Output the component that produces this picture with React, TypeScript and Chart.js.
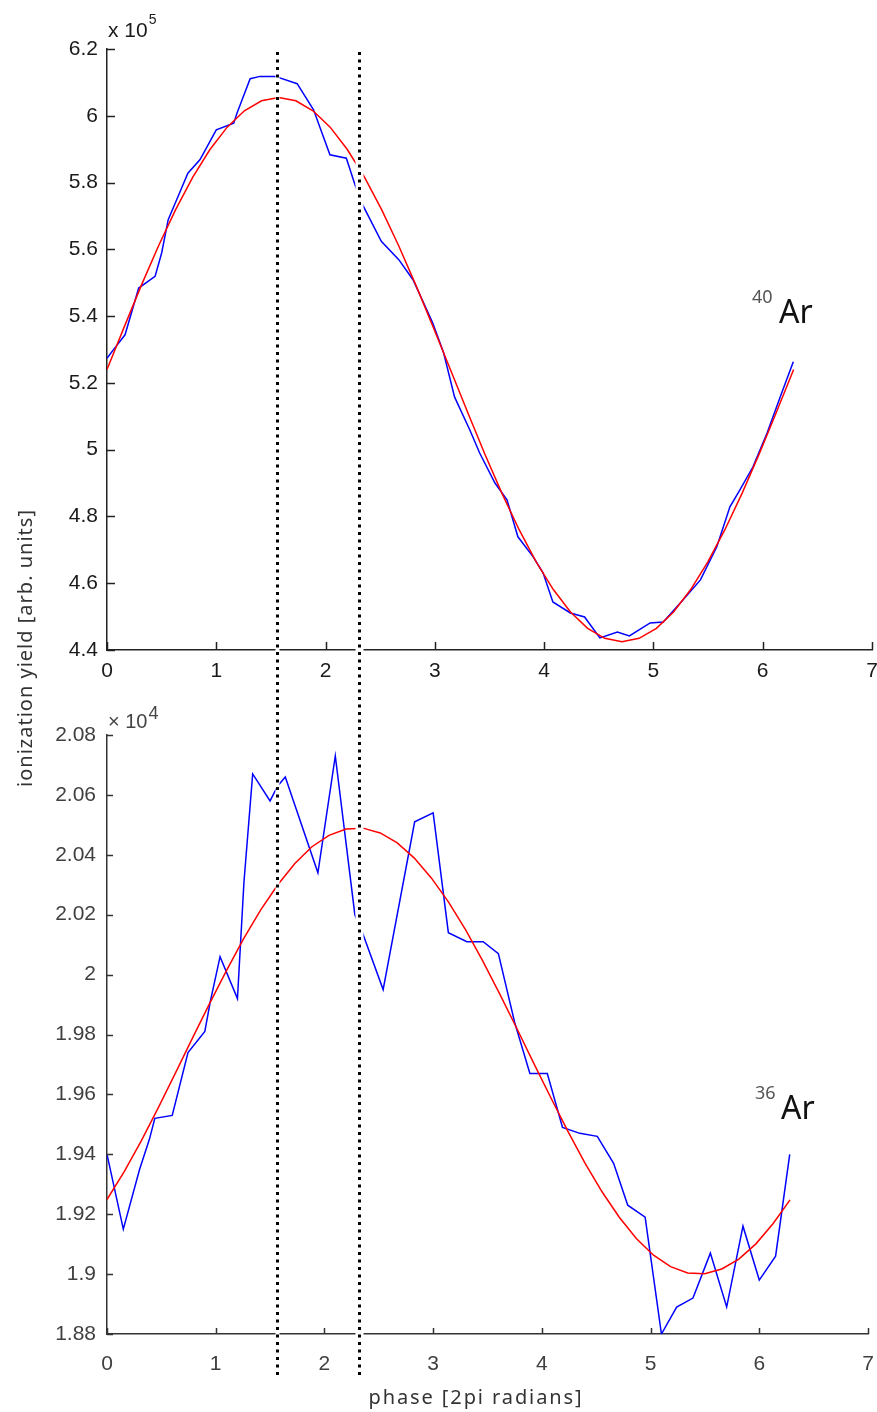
import React, { useEffect, useRef } from "react";
import { Chart, registerables } from "chart.js";

Chart.register(...registerables);

const W = 877;
const H = 1412;
const X_AXIS_H = 60;

// ---- 40Ar (top panel), yield in units of 1e5 ----
const AR40_PHASE = [0, 0.058, 0.165, 0.29, 0.44, 0.5, 0.56, 0.65, 0.74, 0.85, 1.0, 1.16, 1.19, 1.31, 1.4, 1.54, 1.74, 1.89, 2.04, 2.19, 2.27, 2.33, 2.51, 2.67, 2.8, 2.98, 3.08, 3.18, 3.32, 3.41, 3.55, 3.66, 3.76, 3.9, 3.99, 4.08, 4.24, 4.37, 4.51, 4.67, 4.78, 4.97, 5.09, 5.27, 5.43, 5.58, 5.7, 5.79, 5.91, 6.04, 6.16, 6.28];
const AR40_YIELD = [5.274, 5.299, 5.344, 5.484, 5.519, 5.589, 5.689, 5.758, 5.828, 5.868, 5.958, 5.978, 6.008, 6.111, 6.118, 6.118, 6.096, 6.018, 5.883, 5.873, 5.793, 5.739, 5.624, 5.569, 5.509, 5.38, 5.29, 5.158, 5.059, 4.99, 4.9, 4.85, 4.739, 4.679, 4.631, 4.544, 4.511, 4.499, 4.436, 4.454, 4.442, 4.481, 4.484, 4.55, 4.61, 4.709, 4.829, 4.879, 4.948, 5.05, 5.158, 5.263];

const FIT_PHASE = [0, 0.157, 0.314, 0.471, 0.628, 0.785, 0.942, 1.1, 1.257, 1.414, 1.571, 1.728, 1.885, 2.042, 2.199, 2.356, 2.513, 2.67, 2.827, 2.985, 3.142, 3.299, 3.456, 3.613, 3.77, 3.927, 4.084, 4.241, 4.398, 4.555, 4.712, 4.869, 5.027, 5.184, 5.341, 5.498, 5.655, 5.812, 5.969, 6.126, 6.283];
const AR40_FIT = [5.24, 5.367, 5.492, 5.61, 5.719, 5.816, 5.899, 5.966, 6.015, 6.045, 6.055, 6.045, 6.015, 5.966, 5.899, 5.816, 5.719, 5.61, 5.492, 5.367, 5.24, 5.113, 4.988, 4.87, 4.761, 4.664, 4.581, 4.514, 4.465, 4.435, 4.425, 4.435, 4.465, 4.514, 4.581, 4.664, 4.761, 4.87, 4.988, 5.113, 5.24];

// ---- 36Ar (bottom panel), yield in units of 1e4 ----
const AR36_PHASE = [0, 0.15, 0.3, 0.39, 0.44, 0.6, 0.745, 0.9, 0.95, 1.04, 1.2, 1.26, 1.34, 1.5, 1.57, 1.64, 1.94, 2.1, 2.28, 2.35, 2.54, 2.83, 3.0, 3.14, 3.31, 3.46, 3.6, 3.75, 3.89, 4.05, 4.19, 4.35, 4.51, 4.66, 4.79, 4.95, 5.1, 5.24, 5.39, 5.55, 5.7, 5.85, 6.0, 6.15, 6.28];
const AR36_YIELD = [1.94, 1.915, 1.935, 1.945, 1.952, 1.953, 1.974, 1.981, 1.991, 2.006, 1.992, 2.031, 2.067, 2.058, 2.063, 2.066, 2.034, 2.073, 2.02, 2.014, 1.995, 2.051, 2.054, 2.014, 2.011, 2.011, 2.007, 1.984, 1.967, 1.967, 1.949, 1.947, 1.946, 1.937, 1.923, 1.919, 1.88, 1.889, 1.892, 1.907, 1.889, 1.916, 1.898, 1.906, 1.94];
const AR36_FIT = [1.9249, 1.9341, 1.9444, 1.9555, 1.967, 1.9787, 1.9902, 2.0014, 2.012, 2.0216, 2.03, 2.0371, 2.0427, 2.0465, 2.0486, 2.0489, 2.0473, 2.044, 2.0389, 2.0322, 2.0242, 2.0149, 2.0046, 1.9935, 1.982, 1.9703, 1.9588, 1.9476, 1.937, 1.9274, 1.919, 1.9119, 1.9063, 1.9025, 1.9004, 1.9001, 1.9017, 1.905, 1.9101, 1.9168, 1.9248];

const X_TICKS = [0, 1, 2, 3, 4, 5, 6, 7];
const AR40_Y_TICKS = [4.4, 4.6, 4.8, 5, 5.2, 5.4, 5.6, 5.8, 6, 6.2];
const AR36_Y_TICKS = [1.88, 1.9, 1.92, 1.94, 1.96, 1.98, 2, 2.02, 2.04, 2.06, 2.08];
const DIVIDER_PHASES = [1.56, 2.32];
const DIVIDER_GAPS = [4, 8];

const toXY = (xs: number[], ys: number[]) => xs.map((x, i) => ({ x, y: ys[i] }));
const fmt = (v: number) => String(Number(v.toFixed(3)));

const inwardTicks = (color: string, len: number, width: number) => ({
  id: "inwardTicks",
  afterDatasetsDraw(chart: any) {
    const { ctx, chartArea: a, scales } = chart;
    const x = scales.x;
    const y = scales.y;
    ctx.save();
    ctx.strokeStyle = color;
    ctx.lineWidth = width;
    ctx.beginPath();
    x.ticks.forEach((t: any) => {
      const px = Math.round(x.getPixelForValue(t.value)) + 0.5;
      ctx.moveTo(px, a.bottom);
      ctx.lineTo(px, a.bottom - len);
    });
    y.ticks.forEach((t: any) => {
      const py = Math.round(y.getPixelForValue(t.value)) + 0.5;
      ctx.moveTo(a.left, py);
      ctx.lineTo(a.left + len, py);
    });
    ctx.stroke();
    ctx.restore();
  },
});

function buildConfig(opts: {
  blue: { x: number; y: number }[];
  red: { x: number; y: number }[];
  yMin: number;
  yMax: number;
  yTicks: number[];
  padding: { left: number; right: number; top: number; bottom: number };
  tickColor: string;
  axisColor: string;
  xPad: number;
  yPad: number;
  plugins: any[];
}) {
  const font = { family: "'Liberation Sans', Arial, sans-serif", size: 21 };
  return {
    type: "line" as const,
    data: {
      datasets: [
        { data: opts.red, borderColor: "#ff0000", borderWidth: 1.5, pointRadius: 0, tension: 0, fill: false },
        { data: opts.blue, borderColor: "#0000ff", borderWidth: 1.5, pointRadius: 0, tension: 0, fill: false },
      ],
    },
    options: {
      responsive: false,
      animation: false as const,
      devicePixelRatio: 1,
      layout: { padding: opts.padding },
      plugins: { legend: { display: false }, tooltip: { enabled: false }, title: { display: false } },
      scales: {
        x: {
          type: "linear" as const,
          min: 0,
          max: 7,
          afterBuildTicks: (s: any) => {
            s.ticks = X_TICKS.map((v) => ({ value: v }));
          },
          afterFit: (s: any) => {
            s.height = X_AXIS_H;
            s.paddingLeft = 0;
            s.paddingRight = 0;
          },
          ticks: { font, color: opts.tickColor, padding: opts.xPad, maxRotation: 0, autoSkip: false, callback: (v: any) => fmt(Number(v)) },
          grid: { display: false, drawTicks: false },
          border: { display: true, color: opts.axisColor, width: 1.5 },
        },
        y: {
          type: "linear" as const,
          min: opts.yMin,
          max: opts.yMax,
          afterBuildTicks: (s: any) => {
            s.ticks = opts.yTicks.map((v) => ({ value: v }));
          },
          afterFit: (s: any) => {
            s.width = 107;
            s.paddingTop = 0;
            s.paddingBottom = 0;
          },
          ticks: { font, color: opts.tickColor, padding: opts.yPad, autoSkip: false, callback: (v: any) => fmt(Number(v)) },
          grid: { display: false, drawTicks: false },
          border: { display: true, color: opts.axisColor, width: 1.5 },
        },
      },
    },
    plugins: opts.plugins,
  };
}

const topLabels = {
  id: "topLabels",
  afterDraw(chart: any) {
    const { ctx, chartArea: a } = chart;
    ctx.save();
    ctx.fillStyle = "#1a1a1a";
    ctx.textBaseline = "alphabetic";
    ctx.textAlign = "left";
    ctx.font = "21px 'Liberation Sans', Arial, sans-serif";
    const base = "x 10";
    ctx.fillText(base, a.left + 1, a.top - 12);
    const w = ctx.measureText(base).width;
    ctx.font = "14px 'Liberation Sans', Arial, sans-serif";
    ctx.fillText("5", a.left + 2 + w, a.top - 25);
    // 40Ar
    ctx.fillStyle = "#555";
    ctx.font = "18px 'Noto Sans', sans-serif";
    ctx.fillText("40", 752, 303);
    ctx.fillStyle = "#111";
    ctx.font = "32px 'Noto Sans', sans-serif";
    ctx.fillText("Ar", 779, 323);
    ctx.restore();
  },
};

const bottomLabels = {
  id: "bottomLabels",
  afterDraw(chart: any) {
    const { ctx, chartArea: a, scales } = chart;
    ctx.save();
    ctx.textBaseline = "alphabetic";
    ctx.textAlign = "left";
    ctx.fillStyle = "#444";
    ctx.font = "20px 'Liberation Sans', Arial, sans-serif";
    const base = "\u00d7 10";
    ctx.fillText(base, a.left + 1, a.top - 7);
    const w = ctx.measureText(base).width;
    ctx.font = "18px 'Liberation Sans', Arial, sans-serif";
    ctx.fillText("4", a.left + 2 + w, a.top - 16);
    // 36Ar
    ctx.fillStyle = "#555";
    ctx.font = "18px 'Noto Sans', sans-serif";
    ctx.fillText("36", 755, 1099);
    ctx.fillStyle = "#111";
    ctx.font = "32px 'Noto Sans', sans-serif";
    ctx.fillText("Ar", 781, 1119);
    // axis titles
    ctx.fillStyle = "#333";
    ctx.font = "20px 'Noto Sans', sans-serif";
    ctx.textAlign = "center";
    (ctx as any).letterSpacing = "1.9px";
    ctx.fillText("phase [2pi radians]", 476, 1404);
    ctx.save();
    (ctx as any).letterSpacing = "1px";
    ctx.translate(32, 648);
    ctx.rotate(-Math.PI / 2);
    ctx.fillText("ionization yield [arb. units]", 0, 0);
    ctx.restore();
    (ctx as any).letterSpacing = "0px";
    // dotted dividers spanning both panels
    DIVIDER_PHASES.forEach((p, i) => {
      const px = Math.round(scales.x.getPixelForValue(p)) + 0.5;
      ctx.strokeStyle = "#ffffff";
      ctx.lineWidth = DIVIDER_GAPS[i];
      ctx.setLineDash([]);
      ctx.beginPath();
      ctx.moveTo(px, 52);
      ctx.lineTo(px, 1378);
      ctx.stroke();
      ctx.strokeStyle = "#000000";
      ctx.lineWidth = 3;
      ctx.setLineDash([3, 4.5]);
      ctx.beginPath();
      ctx.moveTo(px, 52);
      ctx.lineTo(px, 1378);
      ctx.stroke();
    });
    ctx.restore();
  },
};

export default function App() {
  const topRef = useRef<HTMLCanvasElement>(null);
  const botRef = useRef<HTMLCanvasElement>(null);

  useEffect(() => {
    const top = new Chart(
      topRef.current as HTMLCanvasElement,
      buildConfig({
        blue: toXY(AR40_PHASE, AR40_YIELD),
        red: toXY(FIT_PHASE, AR40_FIT),
        yMin: 4.4,
        yMax: 6.2,
        yTicks: AR40_Y_TICKS,
        padding: { left: 0, right: 5, top: 49, bottom: H - 650 - X_AXIS_H },
        tickColor: "#1a1a1a",
        axisColor: "#222",
        xPad: 9,
        yPad: 9,
        plugins: [inwardTicks("#222", 8, 1.5), topLabels],
      }) as any
    );
    const bot = new Chart(
      botRef.current as HTMLCanvasElement,
      buildConfig({
        blue: toXY(AR36_PHASE, AR36_YIELD),
        red: toXY(FIT_PHASE, AR36_FIT),
        yMin: 1.88,
        yMax: 2.08,
        yTicks: AR36_Y_TICKS,
        padding: { left: 0, right: 9, top: 735, bottom: H - 1334 - X_AXIS_H },
        tickColor: "#404040",
        axisColor: "#333",
        xPad: 18,
        yPad: 11,
        plugins: [inwardTicks("#333", 6, 1.5), bottomLabels],
      }) as any
    );
    return () => {
      top.destroy();
      bot.destroy();
    };
  }, []);

  const cs: React.CSSProperties = { position: "absolute", left: 0, top: 0, width: W, height: H };
  return (
    <div style={{ position: "absolute", left: 0, top: 0, width: W, height: H, background: "#fff" }}>
      <canvas ref={topRef} width={W} height={H} style={cs} />
      <canvas ref={botRef} width={W} height={H} style={cs} />
    </div>
  );
}
